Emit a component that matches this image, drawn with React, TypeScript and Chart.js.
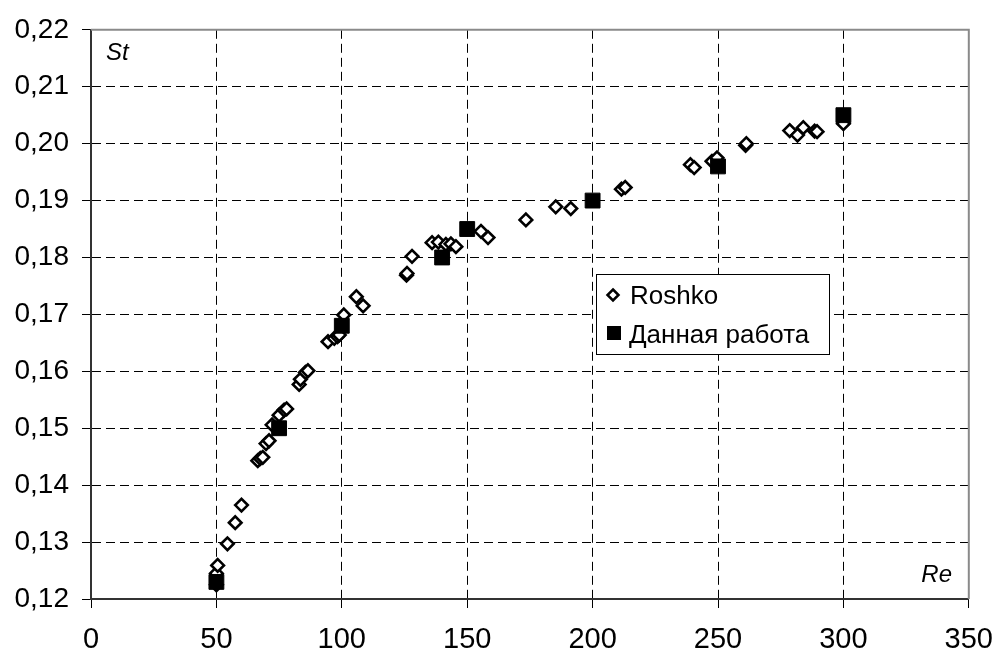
import React, { useEffect, useRef } from 'react';
import { Chart, registerables } from 'chart.js';

Chart.register(...registerables);

const roshkoRe = [
  50, 50, 50.5, 54.4, 57.5, 60, 66.5, 67.5, 68.5, 69.8, 71, 72.2, 75, 77, 78,
  83, 83.5, 85.5, 86.5, 94.5, 97, 98.3, 99, 100.8, 105.8, 108.5, 125.8, 126,
  128, 136, 138.5, 141.5, 143.5, 145.5, 155.5, 158.3, 173.4, 185.3, 191.3,
  211.5, 213, 239, 240.5, 247.6, 249.6, 261, 261.3, 278.6, 281.7, 284, 288.5,
  289.5, 300,
];
const roshkoSt = [
  0.1225, 0.1245, 0.1259, 0.1297, 0.1334, 0.1365, 0.1443, 0.1447, 0.1449,
  0.1473, 0.1478, 0.1506, 0.1523, 0.1532, 0.1534, 0.1577, 0.1586, 0.1598,
  0.1601, 0.1652, 0.1658, 0.1661, 0.1664, 0.1699, 0.1731, 0.1715, 0.1769,
  0.1772, 0.1802, 0.1826, 0.1827, 0.1823, 0.1824, 0.1819, 0.1846, 0.1835,
  0.1866, 0.1889, 0.1886, 0.192, 0.1923, 0.1963, 0.1958, 0.1969, 0.1975,
  0.1997, 0.2, 0.2023, 0.2015, 0.2028, 0.2022, 0.2021, 0.2035,
];
const workRe = [50, 75, 100, 140, 150, 200, 250, 300];
const workSt = [0.123, 0.15, 0.168, 0.18, 0.185, 0.19, 0.196, 0.205];

const seriesNames = ['Roshko', 'Данная работа'];
const xAxisName = 'Re';
const yAxisName = 'St';

const FONT = "'Liberation Sans', Arial, sans-serif";

const overlayPlugin = {
  id: 'overlay',
  afterDraw(chart: any) {
    const { ctx, chartArea: ca } = chart;
    ctx.save();
    // top & right frame
    ctx.strokeStyle = '#8a8a8a';
    ctx.lineWidth = 2;
    ctx.beginPath();
    ctx.moveTo(ca.left, ca.top);
    ctx.lineTo(ca.right, ca.top);
    ctx.lineTo(ca.right, ca.bottom);
    ctx.stroke();

    // axis names
    ctx.fillStyle = '#000';
    ctx.font = `italic 24px ${FONT}`;
    ctx.textBaseline = 'alphabetic';
    ctx.textAlign = 'left';
    ctx.fillText(yAxisName, 106, 60);
    ctx.textAlign = 'right';
    ctx.fillText(xAxisName, 952, 582);

    // legend box
    const bx = 596.5, by = 274.5, bw = 233, bh = 80;
    ctx.fillStyle = '#fff';
    ctx.fillRect(bx, by, bw, bh);
    ctx.strokeStyle = '#000';
    ctx.lineWidth = 1;
    ctx.strokeRect(bx, by, bw, bh);

    // diamond marker
    const dx = 613, dy = 295, r = 5.5;
    ctx.beginPath();
    ctx.moveTo(dx, dy - r);
    ctx.lineTo(dx + r, dy);
    ctx.lineTo(dx, dy + r);
    ctx.lineTo(dx - r, dy);
    ctx.closePath();
    ctx.fillStyle = '#fff';
    ctx.fill();
    ctx.lineWidth = 2.5;
    ctx.strokeStyle = '#000';
    ctx.stroke();

    // square marker
    ctx.fillStyle = '#000';
    ctx.fillRect(607, 326, 14, 14);

    ctx.font = `26px ${FONT}`;
    ctx.textAlign = 'left';
    ctx.fillStyle = '#000';
    ctx.fillText(seriesNames[0], 630, 304);
    ctx.fillText(seriesNames[1], 629, 343);
    ctx.restore();
  },
};

export default function App() {
  const ref = useRef<HTMLCanvasElement>(null);
  useEffect(() => {
    document.body.style.margin = '0';
    const canvas = ref.current!;
    const chart = new Chart(canvas, {
      type: 'scatter',
      data: {
        datasets: [
          {
            label: seriesNames[1],
            data: workRe.map((x, i) => ({ x, y: workSt[i] })),
            pointStyle: 'rect',
            pointRadius: 10.5,
            pointBorderWidth: 1,
            borderColor: '#000',
            backgroundColor: '#000',
          },
          {
            label: seriesNames[0],
            data: roshkoRe.map((x, i) => ({ x, y: roshkoSt[i] })),
            pointStyle: 'rectRot',
            pointRadius: 6.3,
            pointBorderWidth: 2.6,
            borderColor: '#000',
            backgroundColor: '#fff',
          },
        ],
      },
      options: {
        responsive: false,
        animation: false,
        events: [],
        layout: { padding: { top: 24, right: 35, left: 0, bottom: 0 } },
        plugins: { legend: { display: false }, tooltip: { enabled: false } },
        scales: {
          x: {
            type: 'linear',
            min: 0,
            max: 350,
            afterFit: (s: any) => {
              s.height = 58;
            },
            ticks: {
              stepSize: 50,
              padding: 15,
              color: '#000',
              font: { family: FONT, size: 29 },
            },
            grid: {
              color: '#000',
              lineWidth: 1,
              tickLength: 9,
              tickBorderDash: [],
            },
            border: { color: '#333', width: 2, dash: [9, 5] },
          },
          y: {
            type: 'linear',
            min: 0.12,
            max: 0.22,
            afterFit: (s: any) => {
              s.width = 91;
            },
            ticks: {
              stepSize: 0.01,
              padding: 13,
              color: '#000',
              font: { family: FONT, size: 28 },
              callback: (v: any) => Number(v).toFixed(2).replace('.', ','),
            },
            grid: {
              color: '#000',
              lineWidth: 1,
              tickLength: 9,
              tickBorderDash: [],
            },
            border: { color: '#333', width: 2, dash: [9, 5] },
          },
        },
      },
      plugins: [overlayPlugin],
    });
    return () => chart.destroy();
  }, []);
  return (
    <div style={{ width: 1008, height: 657 }}>
      <canvas ref={ref} width={1008} height={657} style={{ display: 'block' }} />
    </div>
  );
}
